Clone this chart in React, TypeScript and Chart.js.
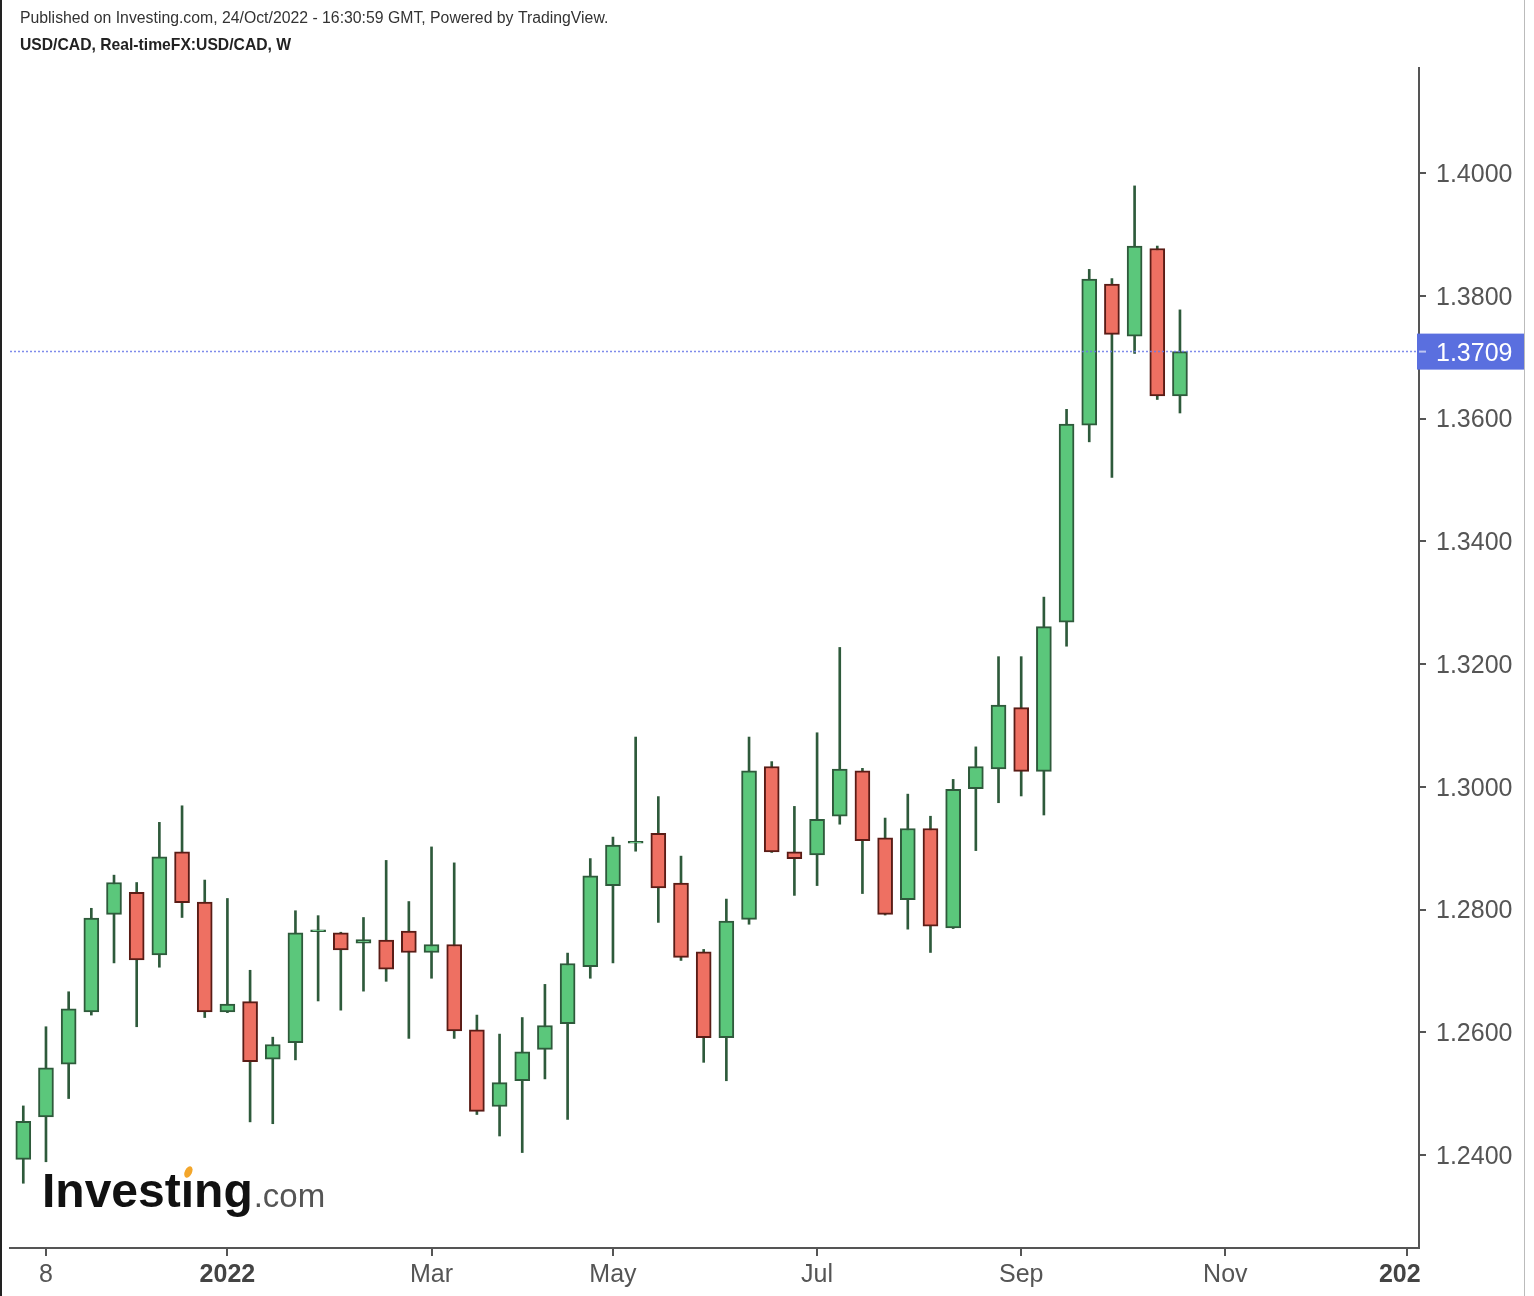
import { useEffect, useRef } from 'react';
import { Chart, registerables } from 'chart.js';

Chart.register(...registerables);

// Weekly candles, USD/CAD (week start dates)
const weeks = [
  '2021-11-01', '2021-11-08', '2021-11-15', '2021-11-22', '2021-11-29', '2021-12-06', '2021-12-13', '2021-12-20', '2021-12-27',
  '2022-01-03', '2022-01-10', '2022-01-17', '2022-01-24', '2022-01-31', '2022-02-07', '2022-02-14', '2022-02-21', '2022-02-28',
  '2022-03-07', '2022-03-14', '2022-03-21', '2022-03-28', '2022-04-04', '2022-04-11', '2022-04-18', '2022-04-25',
  '2022-05-02', '2022-05-09', '2022-05-16', '2022-05-23', '2022-05-30', '2022-06-06', '2022-06-13', '2022-06-20', '2022-06-27',
  '2022-07-04', '2022-07-11', '2022-07-18', '2022-07-25', '2022-08-01', '2022-08-08', '2022-08-15', '2022-08-22', '2022-08-29',
  '2022-09-05', '2022-09-12', '2022-09-19', '2022-09-26', '2022-10-03', '2022-10-10', '2022-10-17', '2022-10-24',
];

const opens = [
  1.2393, 1.2462, 1.2548, 1.2633, 1.2792, 1.2828, 1.2726, 1.2894, 1.2812,
  1.2633, 1.2650, 1.2556, 1.2583, 1.2764, 1.2762, 1.2745, 1.2750, 1.2765,
  1.2730, 1.2743, 1.2604, 1.2479, 1.2521, 1.2572, 1.2614, 1.2707,
  1.2839, 1.2908, 1.2924, 1.2843, 1.2731, 1.2591, 1.2784, 1.3033, 1.2894,
  1.2889, 1.2952, 1.3026, 1.2917, 1.2816, 1.2932, 1.2770, 1.2997, 1.3029,
  1.3129, 1.3025, 1.3268, 1.3589, 1.3819, 1.3734, 1.3877, 1.3637,
];
const highs = [
  1.2480, 1.2609, 1.2666, 1.2802, 1.2856, 1.2844, 1.2942, 1.2969, 1.2848,
  1.2818, 1.2701, 1.2592, 1.2798, 1.2790, 1.2763, 1.2787, 1.2880, 1.2813,
  1.2902, 1.2876, 1.2628, 1.2597, 1.2624, 1.2678, 1.2729, 1.2883,
  1.2918, 1.3081, 1.2984, 1.2887, 1.2735, 1.2817, 1.3081, 1.3041, 1.2968,
  1.3088, 1.3227, 1.3030, 1.2949, 1.2988, 1.2952, 1.3012, 1.3065, 1.3212,
  1.3212, 1.3309, 1.3615, 1.3843, 1.3828, 1.3979, 1.3881, 1.3777,
];
const lows = [
  1.2354, 1.2389, 1.2492, 1.2628, 1.2713, 1.2609, 1.2706, 1.2787, 1.2624,
  1.2632, 1.2454, 1.2451, 1.2555, 1.2651, 1.2636, 1.2667, 1.2683, 1.2590,
  1.2688, 1.2590, 1.2466, 1.2431, 1.2404, 1.2524, 1.2458, 1.2688,
  1.2713, 1.2895, 1.2779, 1.2717, 1.2551, 1.2521, 1.2776, 1.2893, 1.2823,
  1.2839, 1.2939, 1.2826, 1.2791, 1.2768, 1.2730, 1.2769, 1.2896, 1.2974,
  1.2985, 1.2954, 1.3229, 1.3562, 1.3504, 1.3706, 1.3631, 1.3609,
];
const closes = [
  1.2455, 1.2542, 1.2638, 1.2786, 1.2844, 1.2718, 1.2886, 1.2811, 1.2633,
  1.2646, 1.2552, 1.2580, 1.2762, 1.2767, 1.2734, 1.2751, 1.2703, 1.2730,
  1.2743, 1.2602, 1.2471, 1.2518, 1.2568, 1.2611, 1.2712, 1.2855,
  1.2905, 1.2911, 1.2835, 1.2722, 1.2591, 1.2781, 1.3026, 1.2894, 1.2883,
  1.2947, 1.3029, 1.2912, 1.2792, 1.2932, 1.2773, 1.2996, 1.3033, 1.3133,
  1.3025, 1.3261, 1.3591, 1.3827, 1.3737, 1.3881, 1.3637, 1.3709,
];

const lastPrice = 1.3709;

const xTickPositions = [1, 9, 18, 26, 35, 44, 53, 61];
const xTickLabels = ['8', '2022', 'Mar', 'May', 'Jul', 'Sep', 'Nov', '2023'];
const xBoldLabels = ['2022', '2023'];
const yTickValues = [1.24, 1.26, 1.28, 1.3, 1.32, 1.34, 1.36, 1.38, 1.4];

const headerLine1 = 'Published on Investing.com, 24/Oct/2022 - 16:30:59 GMT, Powered by TradingView.';
const headerLine2 = 'USD/CAD, Real-timeFX:USD/CAD, W';

const FONT = '"Liberation Sans", Arial, Helvetica, sans-serif';
const GREEN = '#5bc77b';
const RED = '#ee7062';
const GREEN_EDGE = '#2e5a3b';
const RED_EDGE = '#5a1c16';
const WICK = '#2e5a3b';
const AXIS = '#555555';

export default function App() {
  const ref = useRef<HTMLCanvasElement | null>(null);

  useEffect(() => {
    if (!ref.current) return;
    const up = opens.map((o, i) => closes[i] >= o);

    const decor = {
      id: 'decor',
      beforeDraw(chart: any) {
        const ctx = chart.ctx;
        ctx.save();
        ctx.fillStyle = '#ffffff';
        ctx.fillRect(0, 0, chart.width, chart.height);
        ctx.restore();
      },
      afterDraw(chart: any) {
        const ctx = chart.ctx;
        const area = chart.chartArea;
        const yScale = chart.scales.y;
        ctx.save();

        // header
        ctx.textBaseline = 'middle';
        ctx.textAlign = 'left';
        ctx.fillStyle = '#333';
        ctx.font = `15.8px ${FONT}`;
        ctx.fillText(headerLine1, 20, 19);
        ctx.fillStyle = '#222';
        ctx.font = `bold 15.7px ${FONT}`;
        ctx.fillText(headerLine2, 20, 46);

        // last price dotted line
        const py = yScale.getPixelForValue(lastPrice);
        ctx.beginPath();
        ctx.setLineDash([2, 2]);
        ctx.strokeStyle = 'rgba(105,120,232,0.85)';
        ctx.lineWidth = 1.5;
        ctx.moveTo(area.left, py);
        ctx.lineTo(area.right, py);
        ctx.stroke();
        ctx.setLineDash([]);

        // price tag
        ctx.fillStyle = '#5a6fdf';
        ctx.fillRect(area.right - 2, py - 18, 107, 36);
        ctx.strokeStyle = 'rgba(255,255,255,0.6)';
        ctx.lineWidth = 2;
        ctx.beginPath();
        ctx.moveTo(area.right, py);
        ctx.lineTo(area.right + 7, py);
        ctx.stroke();
        ctx.fillStyle = '#ffffff';
        ctx.font = `25px ${FONT}`;
        ctx.textBaseline = 'middle';
        ctx.fillText(lastPrice.toFixed(4), area.right + 17, py + 2);

        // logo
        ctx.textBaseline = 'alphabetic';
        ctx.font = `bold 48px ${FONT}`;
        ctx.fillStyle = '#111';
        const logoX = 42;
        const logoY = 1207;
        ctx.fillText('Investing', logoX, logoY);
        const w = ctx.measureText('Investing').width;
        const wInvest = ctx.measureText('Invest').width;
        const wi = ctx.measureText('i').width;
        ctx.font = `33px ${FONT}`;
        ctx.fillStyle = '#555';
        ctx.fillText('.com', logoX + w + 1, logoY);
        // orange accent replacing the dot of the "i"
        const ix = logoX + wInvest + wi / 2;
        ctx.fillStyle = '#ffffff';
        ctx.fillRect(ix - 7, 1160, 14, 19);
        ctx.fillStyle = '#f3a62b';
        ctx.beginPath();
        ctx.ellipse(ix + 1, 1172, 3.6, 6, 0.45, 0, Math.PI * 2);
        ctx.fill();

        // clip x labels past the price scale edge
        ctx.fillStyle = '#ffffff';
        ctx.fillRect(area.right + 1, area.bottom + 3, 1524 - area.right - 1, chart.height - area.bottom - 3);

        // page frame
        ctx.fillStyle = '#222';
        ctx.fillRect(0, 0, 2, chart.height);
        ctx.fillStyle = '#bbbbbb';
        ctx.fillRect(1524, 0, 1, chart.height);

        ctx.restore();
      },
    };

    const chart = new Chart(ref.current, {
      type: 'bar',
      data: {
        labels: weeks,
        datasets: [
          {
            label: 'body',
            data: opens.map((o, i) => ({ x: i, y: [o, closes[i]] })) as any,
            backgroundColor: up.map((u) => (u ? GREEN : RED)),
            borderColor: up.map((u) => (u ? GREEN_EDGE : RED_EDGE)),
            borderWidth: 2,
            borderSkipped: false,
            barThickness: 15,
            grouped: false,
          } as any,
          {
            label: 'wick',
            data: lows.map((l, i) => ({ x: i, y: [l, highs[i]] })) as any,
            backgroundColor: WICK,
            borderWidth: 0,
            barThickness: 2,
            grouped: false,
          } as any,
        ],
      },
      options: {
        responsive: false,
        maintainAspectRatio: false,
        animation: false,
        devicePixelRatio: 1,
        layout: { padding: { left: 10, top: 68, right: 0, bottom: 0 } },
        plugins: { legend: { display: false }, tooltip: { enabled: false }, title: { display: false } },
        scales: {
          x: {
            type: 'linear',
            position: 'bottom',
            min: -0.586,
            max: 61.54,
            offset: false,
            grid: { display: true, drawOnChartArea: false, drawTicks: true, tickLength: 8, color: AXIS, lineWidth: 2, offset: false },
            border: { display: true, color: AXIS, width: 2 },
            ticks: {
              autoSkip: false,
              maxRotation: 0,
              minRotation: 0,
              padding: 4,
              color: (c: any) => (c.tick && xBoldLabels.includes(xTickLabels[xTickPositions.indexOf(c.tick.value)]) ? '#444' : '#555'),
              font: (c: any) => ({
                family: FONT,
                size: 25,
                weight: c.tick && xBoldLabels.includes(xTickLabels[xTickPositions.indexOf(c.tick.value)]) ? 'bold' : 'normal',
              }),
              callback: (v: any) => {
                const k = xTickPositions.indexOf(Number(v));
                return k >= 0 ? xTickLabels[k] : '';
              },
            },
            afterBuildTicks: (axis: any) => {
              axis.ticks = xTickPositions.map((v) => ({ value: v }));
            },
            afterFit: (axis: any) => {
              axis.height = 48;
            },
          } as any,
          y: {
            type: 'linear',
            position: 'right',
            min: 1.22485,
            max: 1.41711,
            grid: { display: true, drawOnChartArea: false, drawTicks: true, tickLength: 7, color: AXIS, lineWidth: 2 },
            border: { display: true, color: AXIS, width: 2 },
            ticks: {
              padding: 10,
              labelOffset: 2,
              color: '#555',
              font: { family: FONT, size: 25 },
              callback: (v: any) => Number(v).toFixed(4),
            },
            afterBuildTicks: (axis: any) => {
              axis.ticks = yTickValues.map((v) => ({ value: v }));
            },
            afterFit: (axis: any) => {
              axis.width = 115;
            },
          } as any,
        },
      },
      plugins: [decor],
    });

    return () => chart.destroy();
  }, []);

  return (
    <div style={{ position: 'absolute', left: 0, top: 0, width: 1534, height: 1296, background: '#fff' }}>
      <canvas ref={ref} width={1534} height={1296} style={{ display: 'block', width: 1534, height: 1296 }} />
    </div>
  );
}
